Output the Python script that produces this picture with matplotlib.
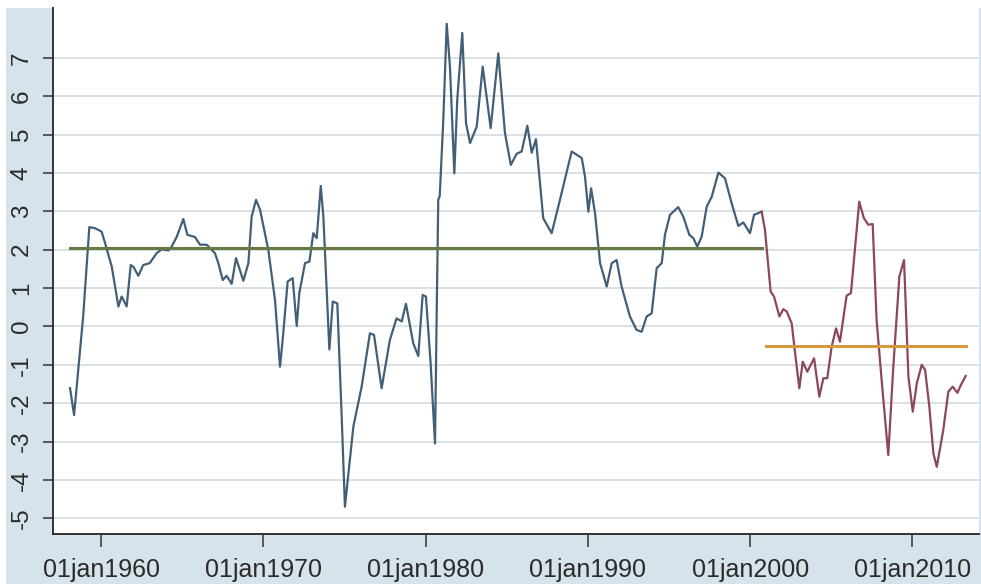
import numpy as np
import pandas as pd
import matplotlib
matplotlib.use("Agg")
import matplotlib.pyplot as plt
from matplotlib.patches import Rectangle

# ---- data ----
blue_t = [1958.09, 1958.34, 1958.90, 1959.28, 1959.63, 1960.04, 1960.25, 1960.66, 1961.07, 1961.27,
          1961.58, 1961.83, 1962.00, 1962.30, 1962.60, 1963.00, 1963.43, 1963.74, 1964.15, 1964.35,
          1964.66, 1965.07, 1965.32, 1965.79, 1966.10, 1966.51, 1967.02, 1967.23, 1967.50, 1967.74,
          1968.05, 1968.32, 1968.77, 1969.08, 1969.28, 1969.55, 1969.80, 1970.31, 1970.72, 1971.03,
          1971.23, 1971.50, 1971.81, 1972.06, 1972.22, 1972.57, 1972.84, 1973.08, 1973.29, 1973.54,
          1973.70, 1974.07, 1974.28, 1974.56, 1974.83, 1975.03, 1975.55, 1976.06, 1976.57, 1976.82,
          1977.29, 1977.80, 1978.21, 1978.53, 1978.79, 1979.24, 1979.55, 1979.82, 1980.02, 1980.31,
          1980.58, 1980.68, 1980.78, 1980.87, 1981.09, 1981.30, 1981.50, 1981.77, 1981.95, 1982.26,
          1982.49, 1982.74, 1983.15, 1983.52, 1984.01, 1984.48, 1984.89, 1985.25, 1985.61, 1985.92,
          1986.27, 1986.54, 1986.80, 1987.25, 1987.77, 1988.28, 1989.00, 1989.62, 1989.82, 1990.03,
          1990.20, 1990.44, 1990.75, 1991.16, 1991.47, 1991.77, 1992.08, 1992.59, 1993.00, 1993.31,
          1993.62, 1993.93, 1994.24, 1994.55, 1994.75, 1995.06, 1995.57, 1995.88, 1996.25, 1996.50,
          1996.74, 1997.01, 1997.32, 1997.63, 1998.04, 1998.45, 1998.86, 1999.27, 1999.58, 1999.99,
          2000.24, 2000.71]
blue_v = [-1.61, -2.31, 0.26, 2.59, 2.56, 2.47, 2.17, 1.56, 0.52, 0.78,
          0.52, 1.60, 1.55, 1.32, 1.60, 1.65, 1.91, 2.01, 1.98, 2.08,
          2.33, 2.80, 2.39, 2.33, 2.13, 2.13, 1.91, 1.65, 1.21, 1.32,
          1.11, 1.78, 1.19, 1.65, 2.86, 3.30, 3.04, 1.99, 0.69, -1.05,
          -0.18, 1.17, 1.26, 0.01, 0.87, 1.65, 1.69, 2.43, 2.30, 3.66,
          2.86, -0.60, 0.65, 0.60, -2.35, -4.70, -2.61, -1.57, -0.18, -0.22,
          -1.61, -0.35, 0.21, 0.13, 0.59, -0.44, -0.77, 0.82, 0.78, -0.96,
          -3.05, 0.26, 3.30, 3.40, 5.38, 7.89, 6.77, 3.99, 5.91, 7.65,
          5.30, 4.78, 5.21, 6.77, 5.17, 7.12, 5.04, 4.21, 4.50, 4.56,
          5.23, 4.53, 4.88, 2.82, 2.43, 3.30, 4.56, 4.39, 3.91, 2.99,
          3.60, 2.95, 1.65, 1.04, 1.65, 1.73, 1.04, 0.26, -0.09, -0.14,
          0.26, 0.34, 1.52, 1.65, 2.39, 2.91, 3.11, 2.86, 2.39, 2.30,
          2.08, 2.34, 3.12, 3.38, 4.01, 3.86, 3.21, 2.62, 2.71, 2.43,
          2.91, 2.99]

red_t = [2000.71, 2000.91, 2001.26, 2001.47, 2001.80, 2002.04, 2002.25, 2002.56, 2002.77, 2003.03,
         2003.24, 2003.52, 2003.94, 2004.26, 2004.51, 2004.75, 2005.02, 2005.29, 2005.53, 2005.94,
         2006.21, 2006.72, 2007.01, 2007.28, 2007.55, 2007.79, 2008.10, 2008.51, 2008.82, 2009.19,
         2009.48, 2009.75, 2010.02, 2010.27, 2010.57, 2010.78, 2011.04, 2011.29, 2011.50, 2011.90,
         2012.21, 2012.48, 2012.77, 2012.98, 2013.28]
red_v = [2.99, 2.52, 0.91, 0.78, 0.26, 0.45, 0.39, 0.08, -0.70, -1.61,
         -0.92, -1.18, -0.83, -1.83, -1.35, -1.35, -0.53, -0.05, -0.40, 0.80,
         0.87, 3.25, 2.82, 2.65, 2.67, 0.17, -1.39, -3.35, -1.05, 1.30,
         1.73, -1.31, -2.22, -1.48, -1.00, -1.13, -2.09, -3.31, -3.66, -2.70,
         -1.70, -1.57, -1.73, -1.53, -1.29]

mean1_span = [1958.09, 2000.74]
mean1_value = 2.05
mean2_span = [2000.98, 2013.28]
mean2_value = -0.50

x_tick_years = [1960, 1970, 1980, 1990, 2000, 2010]
x_tick_labels = ["01jan1960", "01jan1970", "01jan1980", "01jan1990", "01jan2000", "01jan2010"]
y_ticks = [-5, -4, -3, -2, -1, 0, 1, 2, 3, 4, 5, 6, 7]
y_tick_labels = [str(v) for v in y_ticks]


def to_dates(years):
    out = []
    for y in np.asarray(years, dtype=float):
        yi = int(np.floor(y))
        start = pd.Timestamp(year=yi, month=1, day=1)
        end = pd.Timestamp(year=yi + 1, month=1, day=1)
        out.append(start + (end - start) * (y - yi))
    return pd.DatetimeIndex(out)


plt.rcParams['font.family'] = ['Liberation Sans', 'DejaVu Sans']

W, H = 981, 584
fig = plt.figure(figsize=(W / 100, H / 100), dpi=100, facecolor="white")

bg = "#d7e3ea"
fig.patches.append(Rectangle((6 / W, 0), 1 - 6 / W, (H - 8) / H, transform=fig.transFigure,
                             facecolor=bg, edgecolor="none", zorder=-10))

ax = fig.add_axes([53 / W, 50 / H, 926 / W, 526 / H])
ax.set_zorder(1)
ax.set_facecolor("white")

ax.plot(to_dates(blue_t), blue_v, color="#435f77", lw=1.6, zorder=3)
ax.plot(to_dates(red_t), red_v, color="#8c4758", lw=1.6, zorder=3)
ax.plot(to_dates(mean1_span), [mean1_value, mean1_value], color="#667b43", lw=2.2, zorder=4)
ax.plot(to_dates(mean2_span), [mean2_value, mean2_value], color="#d49a3c", lw=2.2, zorder=4)

ax.set_xlim(to_dates([1957.04, 2014.1]))
ax.set_ylim(-5.41, 8.30)

ax.set_yticks(y_ticks)
ax.set_yticklabels(y_tick_labels, rotation=90, va="center", fontsize=17.5, color="#2b2b2b")
ax.set_xticks(to_dates(x_tick_years))
ax.set_xticklabels(x_tick_labels, fontsize=18, color="#2b2b2b")

ax.grid(axis="y", color="#d8dde0", lw=1.3, zorder=1)
ax.grid(axis="x", visible=False)
ax.set_axisbelow(True)

for s in ["top", "right"]:
    ax.spines[s].set_visible(False)
for s in ["left", "bottom"]:
    ax.spines[s].set_color("#333333")
    ax.spines[s].set_linewidth(1.4)

ax.tick_params(axis="y", length=7.5, width=1.1, color="#333333", pad=7)
ax.tick_params(axis="x", length=9, width=1.1, color="#333333", pad=8)

fig.savefig("out.png", dpi=100, facecolor=fig.get_facecolor())
